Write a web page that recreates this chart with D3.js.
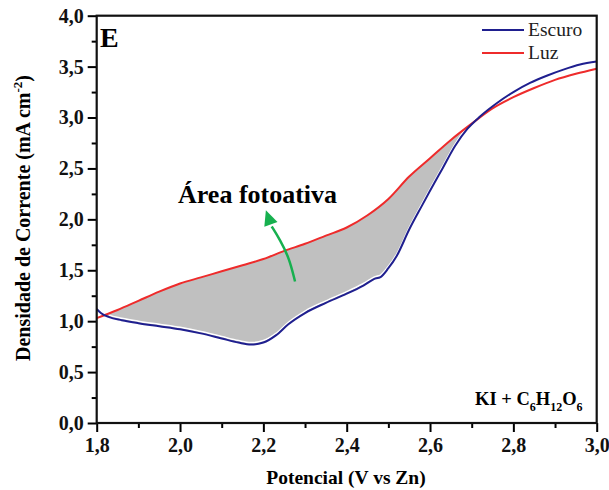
<!DOCTYPE html>
<html><head><meta charset="utf-8">
<script src="https://cdn.jsdelivr.net/npm/d3@7"></script>
<style>body{margin:0;background:#fff}</style>
</head><body><svg id="c" width="609" height="490"></svg>
<script>
const xTicks = [1.8, 2.0, 2.2, 2.4, 2.6, 2.8, 3.0];
const yTicks = [0, 0.5, 1.0, 1.5, 2.0, 2.5, 3.0, 3.5, 4.0];
const escuroX = [1.80,1.81,1.83,1.86,1.90,1.95,2.00,2.05,2.10,2.14,2.17,2.20,2.23,2.26,2.30,2.35,2.40,2.44,2.47,2.48,2.50,2.52,2.55,2.58,2.60,2.63,2.66,2.69,2.72,2.76,2.80,2.84,2.88,2.92,2.96,3.00];
const escuroY = [1.12,1.08,1.04,1.01,0.98,0.95,0.92,0.88,0.83,0.79,0.77,0.79,0.86,0.97,1.08,1.18,1.27,1.35,1.42,1.43,1.52,1.64,1.90,2.13,2.28,2.50,2.72,2.89,3.01,3.14,3.25,3.34,3.41,3.47,3.52,3.55];
const luzX = [1.80,1.85,1.90,1.95,2.00,2.05,2.10,2.15,2.20,2.25,2.30,2.35,2.40,2.45,2.50,2.55,2.60,2.65,2.70,2.75,2.80,2.85,2.90,2.95,3.00];
const luzY = [1.03,1.11,1.20,1.29,1.37,1.43,1.49,1.55,1.61,1.69,1.76,1.84,1.92,2.04,2.20,2.42,2.60,2.78,2.94,3.09,3.20,3.29,3.37,3.43,3.48];
const fillRange = [1.82, 2.71];
const arrowPts = [[2.276,1.39],[2.262,1.62],[2.240,1.80],[2.220,1.93]];
const arrowTip = [2.206,2.09];

const FONT = "'Liberation Serif', 'Times New Roman', 'DejaVu Serif', serif";
const svg = d3.select("#c");
const m = {l:96.7, r:596.7, t:15.7, b:423};
const x = d3.scaleLinear().domain([1.8,3.0]).range([m.l,m.r]);
const y = d3.scaleLinear().domain([0,4.0]).range([m.b,m.t]);
const fmt = d => d3.format(".1f")(d).replace(".",",");

const esc = escuroX.map((v,i)=>[v,escuroY[i]]);
const luz = luzX.map((v,i)=>[v,luzY[i]]);
const line = d3.line().x(d=>x(d[0])).y(d=>y(d[1])).curve(d3.curveMonotoneX);

function interp(arr, xv){
  for(let i=0;i<arr.length-1;i++){ if(xv>=arr[i][0]&&xv<=arr[i+1][0]){const t=(xv-arr[i][0])/(arr[i+1][0]-arr[i][0]);return arr[i][1]+t*(arr[i+1][1]-arr[i][1]);} }
  return arr[arr.length-1][1];
}
const upperB = [[fillRange[0],interp(luz,fillRange[0])]].concat(luz.filter(d=>d[0]>fillRange[0]&&d[0]<fillRange[1])).concat([[fillRange[1],interp(luz,fillRange[1])]]);
const lowerB = [[fillRange[0],interp(esc,fillRange[0])]].concat(esc.filter(d=>d[0]>fillRange[0]&&d[0]<fillRange[1])).concat([[fillRange[1],interp(esc,fillRange[1])]]);
const poly = upperB.concat(lowerB.slice().reverse());
svg.append("path").attr("d", d3.line().x(d=>x(d[0])).y(d=>y(d[1]))(poly)+"Z").attr("fill","#c0c0c0").attr("stroke","none");
svg.append("path").attr("d", line(lowerB)).attr("fill","none").attr("stroke","#fff").attr("stroke-width",1.5).attr("transform","translate(0,-2)");

svg.append("path").attr("d", line(luz)).attr("fill","none").attr("stroke","#ee2b2b").attr("stroke-width",2);
svg.append("path").attr("d", line(esc)).attr("fill","none").attr("stroke","#1f1f8f").attr("stroke-width",2);

const ax = svg.append("g").attr("transform",`translate(0,${m.b})`)
  .call(d3.axisBottom(x).tickValues(xTicks).tickSize(9).tickFormat(fmt));
ax.attr("font-family",FONT);
ax.select(".domain").remove();
ax.selectAll("text").attr("font-size",20).attr("font-weight","bold").attr("dy","0.85em").attr("fill","#111");
ax.selectAll("line").attr("stroke-width",2);
const axm = svg.append("g").attr("transform",`translate(0,${m.b})`)
  .call(d3.axisBottom(x).tickValues(d3.range(1.9,3.0,0.2)).tickSize(5).tickFormat(""));
axm.select(".domain").remove(); axm.selectAll("line").attr("stroke-width",2);

const ay = svg.append("g").attr("transform",`translate(${m.l},0)`)
  .call(d3.axisLeft(y).tickValues(yTicks).tickSize(9).tickFormat(fmt));
ay.attr("font-family",FONT);
ay.select(".domain").remove();
ay.selectAll("text").attr("font-size",20).attr("font-weight","bold").attr("x",-13).attr("fill","#111");
ay.selectAll("line").attr("stroke-width",2);
const aym = svg.append("g").attr("transform",`translate(${m.l},0)`)
  .call(d3.axisLeft(y).tickValues(d3.range(0.25,4.0,0.5)).tickSize(5).tickFormat(""));
aym.select(".domain").remove(); aym.selectAll("line").attr("stroke-width",2);

svg.append("rect").attr("x",m.l).attr("y",m.t).attr("width",m.r-m.l).attr("height",m.b-m.t)
  .attr("fill","none").attr("stroke","#111").attr("stroke-width",2.2);

const T = (sel)=>sel.attr("font-family",FONT);
T(svg.append("text")).attr("x",346).attr("y",484).attr("text-anchor","middle").attr("font-size",19.5).attr("font-weight","bold").text("Potencial (V vs Zn)");
const yl = T(svg.append("text")).attr("transform","translate(30,218) rotate(-90)").attr("text-anchor","middle").attr("font-size",20).attr("font-weight","bold");
yl.append("tspan").text("Densidade de Corrente (mA cm");
yl.append("tspan").attr("dy",-8).attr("font-size",13).text("-2");
yl.append("tspan").attr("dy",8).text(")");

T(svg.append("text")).attr("x",100).attr("y",47).attr("font-size",28).attr("font-weight","bold").text("E");

const leg = [["Escuro","#1f1f8f",30],["Luz","#ee2b2b",53]];
leg.forEach(([t,c,yy])=>{
  svg.append("line").attr("x1",482).attr("x2",524).attr("y1",yy).attr("y2",yy).attr("stroke",c).attr("stroke-width",2);
  T(svg.append("text")).attr("x",528).attr("y",yy+6).attr("font-size",19.5).attr("fill","#222").text(t);
});

const f = T(svg.append("text")).attr("x",475).attr("y",405).attr("font-size",18.5).attr("font-weight","bold");
[["KI + C",0],["6",1],["H",0],["12",1],["O",0],["6",1]].forEach(([t,s])=>{
  f.append("tspan").attr("font-size",s?12:18.5).attr("dy",s?6:-6).text(t);
});
f.select("tspan").attr("dy",0);

T(svg.append("text")).attr("x",178).attr("y",203).attr("font-size",26).attr("font-weight","bold").text("Área fotoativa");
const ap = arrowPts.map(d=>[x(d[0]),y(d[1])]);
svg.append("path").attr("d", d3.line().curve(d3.curveBasis)(ap)).attr("fill","none").attr("stroke","#17b04f").attr("stroke-width",2.5);
const tip=[x(arrowTip[0]),y(arrowTip[1])];
const last=ap[ap.length-1];
const ang=Math.atan2(tip[1]-last[1],tip[0]-last[0]);
const L=15,W=7;
const bx=tip[0]-L*Math.cos(ang), by=tip[1]-L*Math.sin(ang);
svg.append("path").attr("d",`M${tip[0]},${tip[1]}L${bx+W*Math.sin(ang)},${by-W*Math.cos(ang)}L${bx-W*Math.sin(ang)},${by+W*Math.cos(ang)}Z`).attr("fill","#17b04f");
</script></body></html>
